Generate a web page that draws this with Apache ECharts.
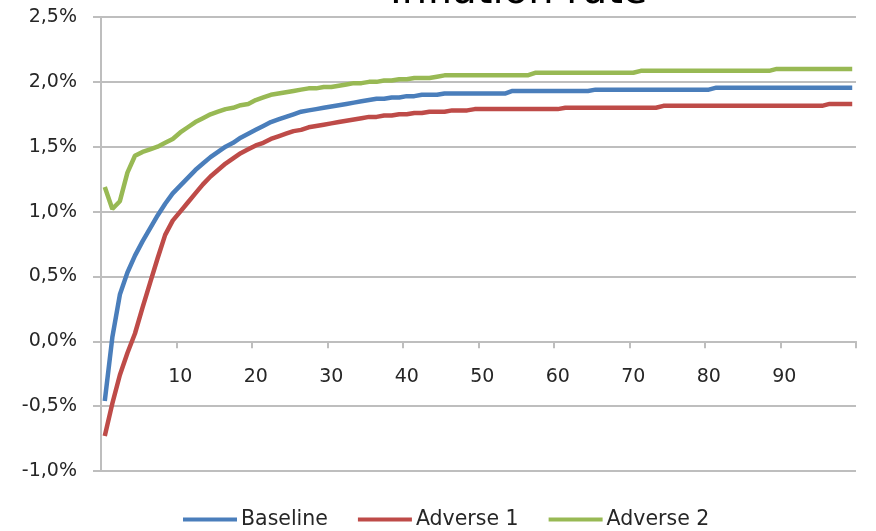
<!DOCTYPE html>
<html>
<head>
<meta charset="utf-8">
<script src="https://cdn.jsdelivr.net/npm/echarts@6/dist/echarts.min.js"></script>
<style>
html,body{margin:0;padding:0;background:#fff;}
#chart{width:876px;height:531px;}
</style>
</head>
<body>
<div id="chart"></div>
<script>
const titleText = "Inflation rate";
const seriesNames = ["Baseline", "Adverse 1", "Adverse 2"];
const xTickLabels = ["10", "20", "30", "40", "50", "60", "70", "80", "90"];
const yMin = -1.0, yMax = 2.5, yStep = 0.5;

const categories = [];
for (let i = 0; i < 100; i++) categories.push(String(i));

const baseline = [
  -0.46, 0.03, 0.36, 0.53, 0.66, 0.77, 0.87, 0.97, 1.06, 1.14,
  1.20, 1.26, 1.32, 1.37, 1.42, 1.46, 1.50, 1.53, 1.57, 1.60,
  1.63, 1.66, 1.69, 1.71, 1.73, 1.75, 1.77, 1.78, 1.79, 1.80,
  1.81, 1.82, 1.83, 1.84, 1.85, 1.86, 1.87, 1.87, 1.88, 1.88,
  1.89, 1.89, 1.90, 1.90, 1.90, 1.91, 1.91, 1.91, 1.91, 1.91,
  1.91, 1.91, 1.91, 1.91, 1.93, 1.93, 1.93, 1.93, 1.93, 1.93,
  1.93, 1.93, 1.93, 1.93, 1.93, 1.94, 1.94, 1.94, 1.94, 1.94,
  1.94, 1.94, 1.94, 1.94, 1.94, 1.94, 1.94, 1.94, 1.94, 1.94,
  1.94, 1.955, 1.955, 1.955, 1.955, 1.955, 1.955, 1.955, 1.955, 1.955,
  1.955, 1.955, 1.955, 1.955, 1.955, 1.955, 1.955, 1.955, 1.955, 1.955
];
const adverse1 = [
  -0.73, -0.48, -0.26, -0.09, 0.06, 0.26, 0.45, 0.64, 0.82, 0.93,
  1.00, 1.07, 1.14, 1.21, 1.27, 1.32, 1.37, 1.41, 1.45, 1.48,
  1.51, 1.53, 1.56, 1.58, 1.60, 1.62, 1.63, 1.65, 1.66, 1.67,
  1.68, 1.69, 1.70, 1.71, 1.72, 1.73, 1.73, 1.74, 1.74, 1.75,
  1.75, 1.76, 1.76, 1.77, 1.77, 1.77, 1.78, 1.78, 1.78, 1.79,
  1.79, 1.79, 1.79, 1.79, 1.79, 1.79, 1.79, 1.79, 1.79, 1.79,
  1.79, 1.80, 1.80, 1.80, 1.80, 1.80, 1.80, 1.80, 1.80, 1.80,
  1.80, 1.80, 1.80, 1.80, 1.815, 1.815, 1.815, 1.815, 1.815, 1.815,
  1.815, 1.815, 1.815, 1.815, 1.815, 1.815, 1.815, 1.815, 1.815, 1.815,
  1.815, 1.815, 1.815, 1.815, 1.815, 1.815, 1.83, 1.83, 1.83, 1.83
];
const adverse2 = [
  1.19, 1.02, 1.08, 1.30, 1.43, 1.46, 1.48, 1.50, 1.53, 1.56,
  1.61, 1.65, 1.69, 1.72, 1.75, 1.77, 1.79, 1.80, 1.82, 1.83,
  1.86, 1.88, 1.90, 1.91, 1.92, 1.93, 1.94, 1.95, 1.95, 1.96,
  1.96, 1.97, 1.98, 1.99, 1.99, 2.00, 2.00, 2.01, 2.01, 2.02,
  2.02, 2.03, 2.03, 2.03, 2.04, 2.05, 2.05, 2.05, 2.05, 2.05,
  2.05, 2.05, 2.05, 2.05, 2.05, 2.05, 2.05, 2.07, 2.07, 2.07,
  2.07, 2.07, 2.07, 2.07, 2.07, 2.07, 2.07, 2.07, 2.07, 2.07,
  2.07, 2.085, 2.085, 2.085, 2.085, 2.085, 2.085, 2.085, 2.085, 2.085,
  2.085, 2.085, 2.085, 2.085, 2.085, 2.085, 2.085, 2.085, 2.085, 2.10,
  2.10, 2.10, 2.10, 2.10, 2.10, 2.10, 2.10, 2.10, 2.10, 2.10
];
const colors = ["#4A7EBB", "#BE4B48", "#98B954"];

const FONT = "DejaVu Sans";
const gridColor = "#BEBEBE";
const textColor = "#262626";

const chart = echarts.init(document.getElementById('chart'), null, {renderer: 'canvas'});
const seriesData = [baseline, adverse1, adverse2];

chart.setOption({
  animation: false,
  backgroundColor: '#ffffff',
  title: {
    text: titleText,
    left: 385,
    top: -32,
    textStyle: {fontFamily: FONT, fontSize: 40, fontWeight: 'normal', color: '#000'}
  },
  grid: {left: 101, right: 20, top: 17, bottom: 60, containLabel: false},
  legend: {
    top: 504,
    left: 178,
    icon: 'rect',
    itemWidth: 54,
    itemHeight: 4,
    itemGap: 30,
    textStyle: {fontFamily: FONT, fontSize: 20.5, color: textColor, padding: [0, 0, 0, -1]},
    data: seriesNames
  },
  xAxis: {
    type: 'category',
    data: categories,
    boundaryGap: true,
    axisLine: {onZero: true, lineStyle: {color: gridColor, width: 2}},
    axisTick: {
      show: true,
      length: 7,
      alignWithLabel: false,
      interval: function (i) { return i % 10 === 0; },
      lineStyle: {color: gridColor, width: 2}
    },
    axisLabel: {
      margin: -103,
      fontFamily: FONT,
      fontSize: 19,
      color: textColor,
      interval: function (i, v) { return xTickLabels.indexOf(v) >= 0; }
    },
    splitLine: {show: false}
  },
  yAxis: {
    type: 'value',
    min: yMin,
    max: yMax,
    interval: yStep,
    axisLine: {show: true, lineStyle: {color: gridColor, width: 2}},
    axisTick: {show: true, length: 8, lineStyle: {color: gridColor, width: 2}},
    axisLabel: {
      margin: 24,
      fontFamily: FONT,
      fontSize: 19,
      color: textColor,
      formatter: function (v) { return v.toFixed(1).replace('.', ',') + '%'; }
    },
    splitLine: {show: true, lineStyle: {color: gridColor, width: 2}}
  },
  series: seriesNames.map(function (name, k) {
    return {
      name: name,
      type: 'line',
      data: seriesData[k],
      symbol: 'none',
      smooth: false,
      color: colors[k],
      lineStyle: {color: colors[k], width: 4.5}
    };
  })
});
</script>
</body>
</html>
